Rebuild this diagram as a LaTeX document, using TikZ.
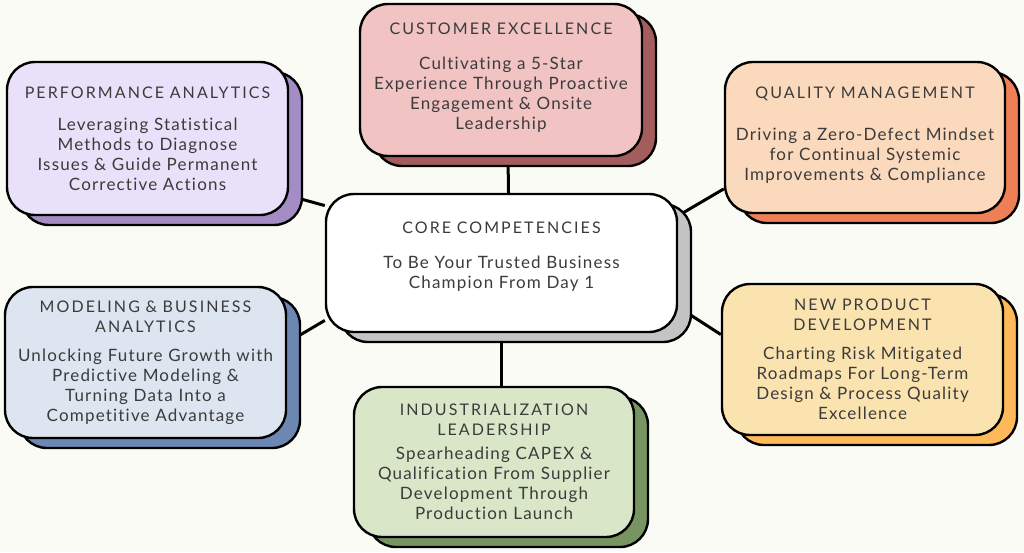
\documentclass[tikz,border=0pt]{standalone}
\usepackage{fontspec}
\setmainfont[LetterSpace=7,Ligatures=NoCommon]{Lato}
\newfontfamily\ttlfont[LetterSpace=13,Ligatures=NoCommon]{Lato}
\usepackage{xcolor}
\usetikzlibrary{positioning,calc,shadows,backgrounds}

\definecolor{bgcol}{HTML}{FBFBF6}
\definecolor{txtcol}{HTML}{3B3B3B}
\definecolor{perffill}{HTML}{E9E1FA}
\definecolor{perfshad}{HTML}{A48DC4}
\definecolor{custfill}{HTML}{F1C3C3}
\definecolor{custshad}{HTML}{A45D5D}
\definecolor{qualfill}{HTML}{FBD9BC}
\definecolor{qualshad}{HTML}{EE7F56}
\definecolor{coreshad}{HTML}{C4C4C4}
\definecolor{modelfill}{HTML}{DCE5F0}
\definecolor{modelshad}{HTML}{6D87B3}
\definecolor{indusfill}{HTML}{D9E7C8}
\definecolor{indusshad}{HTML}{779560}
\definecolor{newpfill}{HTML}{FBE3B0}
\definecolor{newpshad}{HTML}{FDB95A}
\pagecolor{bgcol}

\newcommand\ttl[1]{{\ttlfont\fontsize{16}{20}\selectfont #1}}

\tikzset{
  box/.style 2 args={draw=black, line width=2.4pt, rounded corners=28pt, fill=#1,
    text=txtcol, align=center, text width=275pt, inner sep=0pt,
    minimum width=281pt, minimum height=151pt,
    font=\fontsize{17}{20}\selectfont,
    copy shadow={shadow xshift=14pt, shadow yshift=-10pt, fill=#2, draw=black, line width=2.4pt}},
  link/.style={line width=3pt}
}

\begin{document}
\begin{tikzpicture}[x=1pt,y=-1pt]
\useasboundingbox (0,0) rectangle (1024,552);

\node (core) at (501.5,263) [box={white}{coreshad}, minimum width=351pt, minimum height=138pt, text width=340pt]
  {\ttl{CORE COMPETENCIES}\\[15pt]
   To Be Your Trusted Business\\ Champion From Day 1\\[-5pt]~};
\node (perf) at (147.5,138.5) [box={perffill}{perfshad}, minimum height=153pt]
  {\ttl{PERFORMANCE ANALYTICS}\\[12pt]
   Leveraging Statistical\\ Methods to Diagnose\\ Issues \& Guide Permanent\\ Corrective Actions};
\node (cust) at (501,80) [box={custfill}{custshad}, minimum width=282pt, minimum height=152pt]
  {\ttl{CUSTOMER EXCELLENCE}\\[15pt]
   Cultivating a 5-Star\\ Experience Through Proactive\\ Engagement \& Onsite\\ Leadership\\[-13pt]~};
\node (qual) at (865,137.5) [box={qualfill}{qualshad}, minimum width=280pt]
  {\ttl{QUALITY MANAGEMENT}\\[22pt]
   Driving a Zero-Defect Mindset\\ for Continual Systemic\\ Improvements \& Compliance\\[-13pt]~};
\node (model) at (145.5,362.5) [box={modelfill}{modelshad}]
  {\ttl{MODELING \& BUSINESS\\ ANALYTICS}\\[9pt]
   Unlocking Future Growth with\\ Predictive Modeling \&\\ Turning Data Into a\\ Competitive Advantage};
\node (indus) at (494,462) [box={indusfill}{indusshad}, minimum width=280pt, minimum height=150pt]
  {\ttl{INDUSTRIALIZATION\\ LEADERSHIP}\\[4pt]
   Spearheading CAPEX \&\\ Qualification From Supplier\\ Development Through\\ Production Launch};
\node (newp) at (862.5,359.5) [box={newpfill}{newpshad}]
  {\ttl{NEW PRODUCT\\ DEVELOPMENT}\\[9pt]
   Charting Risk Mitigated\\ Roadmaps For Long-Term\\ Design \& Process Quality\\ Excellence};

\begin{scope}[on background layer]
\draw[link] (perf.-22) -- (core.162);
\draw[link] (model.8) -- (core.198);
\draw[link] (core.15) -- (qual.200);
\draw[link] (core.-14) -- (newp.170);
\draw[link] ([xshift=7pt]cust.south) -- ([xshift=7pt]core.north);
\draw[link] (core.south) -- (core.south |- indus.north);
\end{scope}
\end{tikzpicture}
\end{document}
